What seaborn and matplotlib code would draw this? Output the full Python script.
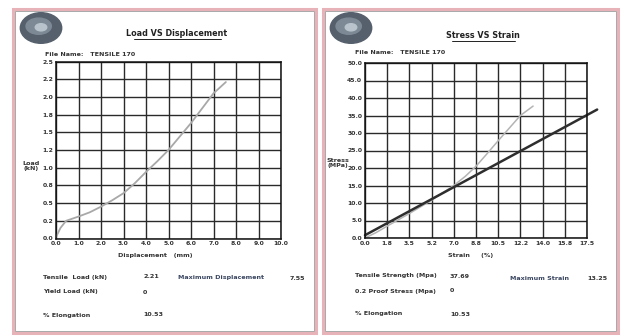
import numpy as np
import pandas as pd
import seaborn as sns
import matplotlib.pyplot as plt
from matplotlib.patches import Rectangle, Ellipse

# load vs displacement (left panel)
disp = [0.0, 0.2, 0.45, 1.0, 1.5, 2.0, 2.5, 3.0, 3.5, 4.0, 4.5, 5.0, 5.5, 6.0, 6.5, 7.0, 7.55]
load = [0.02, 0.15, 0.25, 0.31, 0.37, 0.45, 0.54, 0.64, 0.78, 0.94, 1.09, 1.25, 1.44, 1.63, 1.84, 2.05, 2.21]

# stress vs strain (right panel)
strain = [0.0, 0.9, 1.75, 3.5, 5.25, 7.0, 7.9, 8.75, 9.6, 10.5, 11.4, 12.25, 13.25]
stress = [0.0, 1.6, 3.4, 7.0, 10.8, 15.0, 17.6, 20.5, 24.0, 27.8, 31.5, 35.0, 37.69]
fit_x = [0.0, 18.3]
fit_y = [0.8, 36.7]

load_ticks = [0.0, 0.25, 0.5, 0.75, 1.0, 1.25, 1.5, 1.75, 2.0, 2.25, 2.5]
load_labels = ["0.0", "0.2", "0.5", "0.8", "1.0", "1.2", "1.5", "1.8", "2.0", "2.2", "2.5"]
disp_ticks = [0, 1, 2, 3, 4, 5, 6, 7, 8, 9, 10]
disp_labels = ["0.0", "1.0", "2.0", "3.0", "4.0", "5.0", "6.0", "7.0", "8.0", "9.0", "10.0"]
stress_ticks = [0, 5, 10, 15, 20, 25, 30, 35, 40, 45, 50]
stress_labels = ["0.0", "5.0", "10.0", "15.0", "20.0", "25.0", "30.0", "35.0", "40.0", "45.0", "50.0"]
strain_ticks = [0, 1.75, 3.5, 5.25, 7.0, 8.75, 10.5, 12.25, 14.0, 15.75, 17.5]
strain_labels = ["0.0", "1.8", "3.5", "5.2", "7.0", "8.8", "10.5", "12.2", "14.0", "15.8", "17.5"]

left_info = [("Tensile  Load (kN)", "2.21"), ("Yield Load (kN)", "0"), ("% Elongation", "10.53")]
right_info = [("Tensile Strength (Mpa)", "37.69"), ("0.2 Proof Stress (Mpa)", "0"), ("% Elongation", "10.53")]

sns.set_style("white")
W, H = 627, 336
fig = plt.figure(figsize=(W / 100, H / 100), dpi=100)


def fx(px):
    return px / W


def fy(py):
    return 1 - py / H


def txt(x, y, s, **kw):
    kw.setdefault("fontsize", 4.6)
    kw.setdefault("color", "#333333")
    kw.setdefault("fontweight", "bold")
    kw.setdefault("va", "center")
    fig.text(fx(x), fy(y), s, **kw)


# panel frames
for x0, x1 in [(13, 316), (323, 618)]:
    fig.patches.append(Rectangle((fx(x0), fy(333)), fx(x1 - x0), (333 - 9) / H,
                                 transform=fig.transFigure, fill=False,
                                 edgecolor="#e8b3b8", lw=2.2))
    fig.patches.append(Rectangle((fx(x0 + 2), fy(331)), fx(x1 - x0 - 4), (331 - 11) / H,
                                 transform=fig.transFigure, fill=False,
                                 edgecolor="#9a9a9a", lw=0.6))

# logos
for lx in [18, 328]:
    lax = fig.add_axes([fx(lx), fy(46), fx(46), 36 / H])
    lax.add_patch(Ellipse((0.5, 0.5), 0.9, 0.85, color="#55606c"))
    lax.add_patch(Ellipse((0.45, 0.55), 0.55, 0.45, color="#7d8a96"))
    lax.add_patch(Ellipse((0.5, 0.52), 0.25, 0.2, color="#b8c3cc"))
    lax.set_xlim(0, 1)
    lax.set_ylim(0, 1)
    lax.axis("off")


def style_axes(ax, xt, xl, yt, yl, xmax, ymax):
    ax.set_xlim(0, xmax)
    ax.set_ylim(0, ymax)
    ax.set_xticks(xt)
    ax.set_xticklabels(xl)
    ax.set_yticks(yt)
    ax.set_yticklabels(yl)
    ax.grid(True, color="#2a2a2a", lw=1.0)
    ax.tick_params(length=0, pad=2, labelsize=4.4, labelcolor="#333333")
    for lab in ax.get_xticklabels() + ax.get_yticklabels():
        lab.set_fontweight("bold")
    for sp in ax.spines.values():
        sp.set_color("#111111")
        sp.set_linewidth(1.1)
    ax.set_xlabel("")
    ax.set_ylabel("")


# left chart
ax1 = fig.add_axes([fx(56), fy(238.5), fx(225), 177 / H])
df1 = pd.DataFrame({"disp": disp, "load": load})
sns.lineplot(data=df1, x="disp", y="load", ax=ax1, color="#a8a8a8", lw=1.3, sort=False)
style_axes(ax1, disp_ticks, disp_labels, load_ticks, load_labels, 10, 2.5)

# right chart
ax2 = fig.add_axes([fx(365), fy(238), fx(222), 175 / H])
df2 = pd.DataFrame({"strain": strain, "stress": stress})
sns.lineplot(data=df2, x="strain", y="stress", ax=ax2, color="#b4b4b4", lw=1.1, sort=False)
fit = sns.lineplot(x=fit_x, y=fit_y, ax=ax2, color="#2e2e2e", lw=1.8)
for ln in ax2.lines:
    ln.set_clip_on(False)
style_axes(ax2, strain_ticks, strain_labels, stress_ticks, stress_labels, 17.5, 50)

# titles and labels
txt(177, 34, "Load VS Displacement", fontsize=5.8, ha="center", color="#222222")
fig.lines.append(plt.Line2D([fx(134), fx(221)], [fy(39), fy(39)], transform=fig.transFigure,
                            color="#222222", lw=0.7))
txt(483, 36, "Stress VS Strain", fontsize=5.8, ha="center", color="#222222")
fig.lines.append(plt.Line2D([fx(452), fx(515)], [fy(41), fy(41)], transform=fig.transFigure,
                            color="#222222", lw=0.7))
txt(45, 54, "File Name:   TENSILE 170")
txt(355, 52, "File Name:   TENSILE 170")
txt(31, 166, "Load\n(kN)", ha="center", linespacing=1.1)
txt(338, 163, "Stress\n(MPa)", ha="center", linespacing=1.1)
txt(155, 256, "Displacement   (mm)", ha="center")
txt(471, 255, "Strain     (%)", ha="center")

# result rows
rows_y = [277, 292, 315]
for (name, val), y in zip(left_info, rows_y):
    txt(43, y, name)
    txt(143, y, val)
for (name, val), y in zip(right_info, rows_y):
    txt(355, y - 1, name)
    txt(450, y - 1, val)
txt(178, 278, "Maximum Displacement", color="#3a4660")
txt(290, 278, "7.55")
txt(510, 278, "Maximum Strain", color="#3a4660")
txt(587, 278, "13.25")

fig.savefig("out.png", dpi=100)
